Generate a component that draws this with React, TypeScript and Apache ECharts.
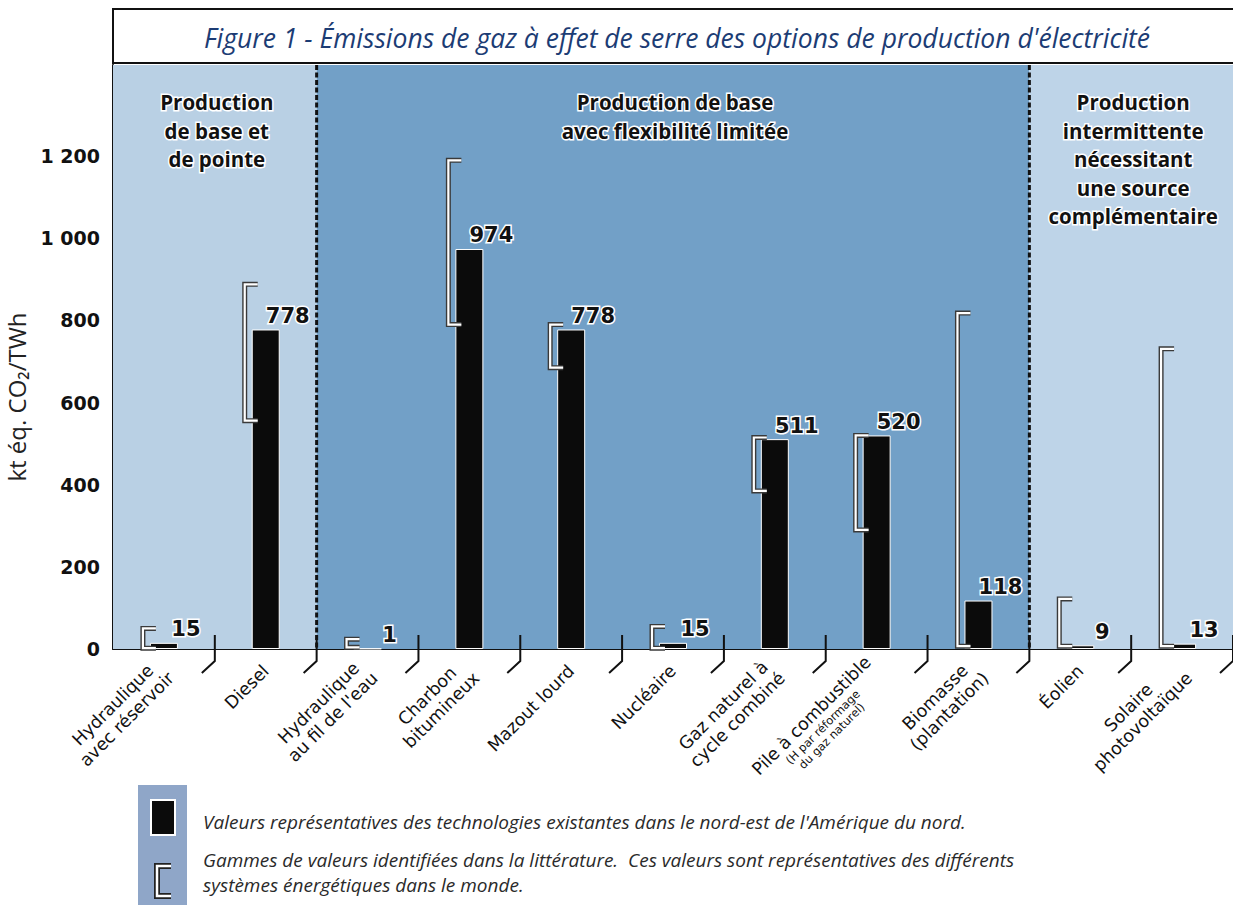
import React, { useEffect, useRef } from 'react';
import * as echarts from 'echarts';

const titleText = "Figure 1 - Émissions de gaz à effet de serre des options de production d'électricité";
const yAxisName = 'kt éq. CO₂/TWh';

const categories = [
  'Hydraulique\navec réservoir',
  'Diesel',
  "Hydraulique\nau fil de l'eau",
  'Charbon\nbitumineux',
  'Mazout lourd',
  'Nucléaire',
  'Gaz naturel à\ncycle combiné',
  'Pile à combustible\n(H par réformage\ndu gaz naturel)',
  'Biomasse\n(plantation)',
  'Éolien',
  'Solaire\nphotovoltaïque',
];
const representativeValues = [15, 778, 1, 974, 778, 15, 511, 520, 118, 9, 13];
const rangeLow = [2, 556, 4, 790, 685, 2, 385, 290, 7, 7, 7];
const rangeHigh = [50, 888, 24, 1190, 790, 55, 515, 520, 818, 122, 731];
const yTickValues = [0, 200, 400, 600, 800, 1000, 1200];

const panelLabels = [
  'Production\nde base et\nde pointe',
  'Production de base\navec flexibilité limitée',
  'Production\nintermittente\nnécessitant\nune source\ncomplémentaire',
];
const panelStart = [0, 2, 9];
const panelEnd = [1, 8, 10];
const smallSubLineCategories = [7];

const legendTexts = [
  "Valeurs représentatives des technologies existantes dans le nord-est de l'Amérique du nord.",
  'Gammes de valeurs identifiées dans la littérature.  Ces valeurs sont représentatives des différents\nsystèmes énergétiques dans le monde.',
];

const Y_MAX = 1422;
const BAR_W = 28;
const panelColors = ['#b9d0e4', '#72a0c7', '#bed4e8'];
const AX_FONT = 'DejaVu Sans';
const HUM_FONT = '"Open Sans", "Noto Sans", sans-serif';

function fmtY(v: number) {
  if (v >= 1000) {
    const t = Math.floor(v / 1000);
    const r = String(v % 1000).padStart(3, '0');
    return t + ' ' + r;
  }
  return String(v);
}

export default function App() {
  const ref = useRef<HTMLDivElement>(null);
  useEffect(() => {
    if (!ref.current) return;
    const chart = echarts.init(ref.current, null, { renderer: 'svg' });

    const bgSeries = {
      type: 'custom',
      silent: true,
      z: 1,
      clip: false,
      data: panelStart.map((s, k) => [s, panelEnd[k]]),
      encode: { x: [0, 1] },
      renderItem: (params: any, api: any) => {
        const k = params.dataIndex;
        const s = api.coord([api.value(0), 0]);
        const e = api.coord([api.value(1), 0]);
        const bw = api.size([1, 0])[0];
        const top = api.coord([api.value(0), Y_MAX])[1];
        const x0 = s[0] - bw / 2;
        const x1 = e[0] + bw / 2;
        return {
          type: 'group',
          children: [
            {
              type: 'rect',
              shape: { x: x0, y: top, width: x1 - x0, height: s[1] - top },
              style: { fill: panelColors[k] },
            },
            {
              type: 'text',
              x: (x0 + x1) / 2 + 2,
              y: top + 23,
              style: {
                text: panelLabels[k],
                fill: '#111',
                fontFamily: HUM_FONT,
                fontWeight: 'bold',
                fontSize: 20.5,
                lineHeight: 28.5,
                align: 'center',
                verticalAlign: 'top',
                stroke: '#ffffff',
                lineWidth: 3,
              },
            },
          ],
        };
      },
    };

    const tickSeries = {
      type: 'custom',
      silent: true,
      z: 6,
      clip: false,
      data: categories.map((_, i) => [i, 0]),
      encode: { x: 0, y: 1 },
      renderItem: (params: any, api: any) => {
        const i = api.value(0);
        const base = api.coord([i, 0]);
        const bw = api.size([1, 0])[0];
        const x = base[0] + bw / 2;
        const y0 = base[1];
        const children: any[] = [
          {
            type: 'polyline',
            shape: { points: [[x, y0 - 14], [x, y0 + 12], [x - 13, y0 + 24]] },
            style: { stroke: '#111', lineWidth: 2, fill: null },
          },
        ];
        if (panelEnd.indexOf(i) >= 0 && i < categories.length - 1) {
          const top = api.coord([i, Y_MAX])[1];
          children.push({
            type: 'line',
            shape: { x1: x, y1: top, x2: x, y2: y0 },
            style: { stroke: '#111', lineWidth: 3, lineDash: [5, 2.5] },
          });
        }
        return { type: 'group', children };
      },
    };

    const bracketSeries = {
      type: 'custom',
      silent: true,
      z: 4,
      clip: false,
      data: categories.map((_, i) => [i, rangeLow[i], rangeHigh[i]]),
      encode: { x: 0, y: [1, 2] },
      renderItem: (params: any, api: any) => {
        const i = api.value(0);
        const lo = api.coord([i, api.value(1)]);
        const hi = api.coord([i, api.value(2)]);
        const barLeft = lo[0] - BAR_W / 2;
        const vx = barLeft - 7;
        const sx = barLeft + 6;
        const pts = [[sx, hi[1]], [vx, hi[1]], [vx, lo[1]], [sx, lo[1]]];
        return {
          type: 'group',
          children: [
            { type: 'polyline', shape: { points: pts }, style: { stroke: '#3a3a3a', lineWidth: 5, fill: null } },
            { type: 'polyline', shape: { points: pts }, style: { stroke: '#ffffff', lineWidth: 2.2, fill: null } },
          ],
        };
      },
    };

    const option = {
      animation: false,
      grid: { left: 113, right: 0, top: 65, bottom: 256, containLabel: false, outerBoundsMode: 'none' },
      xAxis: {
        type: 'category',
        data: categories,
        axisLine: { show: true, lineStyle: { color: '#111', width: 2 } },
        axisTick: { show: false },
        axisLabel: {
          interval: 0,
          rotate: 45,
          margin: 19,
          color: '#111',
          fontFamily: AX_FONT,
          fontSize: 17.5,
          formatter: (value: string, index: number) => {
            const lines = value.split('\n');
            return lines
              .map((l, j) => (j > 0 && smallSubLineCategories.indexOf(index) >= 0 ? `{s|${l}}` : `{n|${l}}`))
              .join('\n');
          },
          rich: {
            n: { align: 'center', fontSize: 17.5, lineHeight: 20, fontFamily: AX_FONT, color: '#111' },
            s: { align: 'center', fontSize: 11.5, lineHeight: 12.5, fontFamily: AX_FONT, color: '#111' },
          },
        },
        splitLine: { show: false },
      },
      yAxis: {
        type: 'value',
        min: 0,
        max: Y_MAX,
        name: yAxisName,
        nameLocation: 'middle',
        nameGap: 85,
        nameTextStyle: { fontFamily: HUM_FONT, fontSize: 24, color: '#222', padding: [0, 80, 0, 0] },
        axisLine: { show: true, lineStyle: { color: '#111', width: 2 } },
        axisTick: {
          show: true,
          inside: true,
          length: 30,
          customValues: yTickValues,
          lineStyle: { color: '#111', width: 2 },
        },
        axisLabel: {
          customValues: yTickValues,
          margin: 13,
          color: '#111',
          fontFamily: AX_FONT,
          fontWeight: 'bold',
          fontSize: 19,
          formatter: (v: number) => fmtY(v),
        },
        splitLine: { show: false },
      },
      graphic: [
        {
          type: 'rect',
          shape: { x: 113, y: 9, width: 1130, height: 54 },
          style: { fill: '#ffffff', stroke: '#111', lineWidth: 2 },
        },
        {
          type: 'text',
          x: 677,
          y: 38,
          style: {
            text: titleText,
            fill: '#1c3c74',
            fontFamily: HUM_FONT,
            fontStyle: 'italic',
            fontSize: 26.5,
            align: 'center',
            verticalAlign: 'middle',
          },
        },
        {
          type: 'rect',
          shape: { x: 138, y: 785, width: 49, height: 125 },
          style: { fill: '#8fa6c8' },
        },
        {
          type: 'rect',
          shape: { x: 151, y: 800, width: 24, height: 35 },
          style: { fill: '#0b0b0b', stroke: '#ffffff', lineWidth: 2 },
        },
        {
          type: 'polyline',
          shape: { points: [[171, 866], [157, 866], [157, 896], [171, 896]] },
          style: { stroke: '#222', lineWidth: 6, fill: null },
        },
        {
          type: 'polyline',
          shape: { points: [[171, 866], [157, 866], [157, 896], [171, 896]] },
          style: { stroke: '#ffffff', lineWidth: 2.5, fill: null },
        },
        {
          type: 'text',
          x: 203,
          y: 822,
          style: {
            text: legendTexts[0],
            fill: '#2a2a2a',
            fontFamily: HUM_FONT,
            fontStyle: 'italic',
            fontSize: 19,
            align: 'left',
            verticalAlign: 'middle',
          },
        },
        {
          type: 'text',
          x: 203,
          y: 847,
          style: {
            text: legendTexts[1],
            fill: '#2a2a2a',
            fontFamily: HUM_FONT,
            fontStyle: 'italic',
            fontSize: 19,
            lineHeight: 25,
            align: 'left',
            verticalAlign: 'top',
          },
        },
      ],
      series: [
        bgSeries,
        {
          type: 'bar',
          z: 3,
          data: representativeValues,
          barWidth: BAR_W,
          itemStyle: { color: '#0b0b0b', borderColor: '#ffffff', borderWidth: 1 },
          label: {
            show: true,
            position: 'top',
            distance: 3,
            offset: [22, 0],
            color: '#111',
            fontFamily: AX_FONT,
            fontWeight: 'bold',
            fontSize: 21,
            textBorderColor: '#ffffff',
            textBorderWidth: 3,
          },
        },
        bracketSeries,
        tickSeries,
      ],
    };
    chart.setOption(option as any);
    return () => chart.dispose();
  }, []);
  return <div ref={ref} style={{ position: 'absolute', left: 0, top: 0, width: 1233, height: 905 }} />;
}
